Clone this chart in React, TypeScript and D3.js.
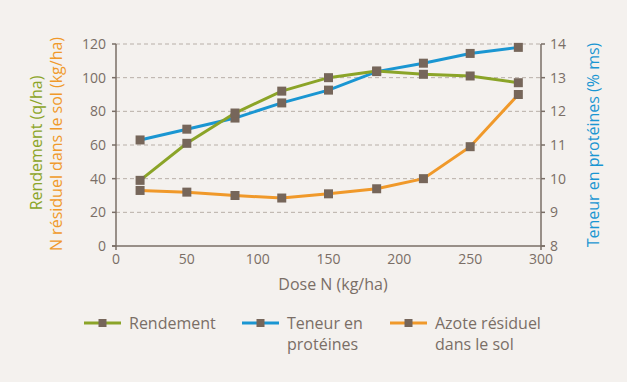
import React from "react";
import * as d3 from "d3";

const doses = [17, 50, 84, 117, 150, 184, 217, 250, 284];
const rendement = [39, 61, 79, 92, 100, 104, 102, 101, 97];
const teneur = [11.15, 11.47, 11.8, 12.25, 12.63, 13.18, 13.43, 13.72, 13.9];
const azote = [33, 32, 30, 28.5, 31, 34, 40, 59, 90];
const xTicks = [0, 50, 100, 150, 200, 250, 300];
const leftTicks = [0, 20, 40, 60, 80, 100, 120];
const rightTicks = [8, 9, 10, 11, 12, 13, 14];

const W = 627, H = 382;
const FONT = "'Open Sans', sans-serif";
const GREEN = "#8ba428", BLUE = "#1a96d2", ORANGE = "#f0992a", MARK = "#76665a", AX = "#7a6e66";

export default function App() {
  const x = d3.scaleLinear().domain([0, 300]).range([116, 541]);
  const yL = d3.scaleLinear().domain([0, 120]).range([246, 44]);
  const yR = d3.scaleLinear().domain([8, 14]).range([246, 44]);
  const line = (ys: number[], sc: d3.ScaleLinear<number, number>) =>
    d3.line<number>().x((_, i) => x(doses[i])).y((v) => sc(v))(ys) || "";
  const series = [
    { vals: azote, sc: yL, color: ORANGE },
    { vals: teneur, sc: yR, color: BLUE },
    { vals: rendement, sc: yL, color: GREEN },
  ];
  const ms = 9;
  const legend = [
    { x0: 84, color: GREEN, lines: ["Rendement"] },
    { x0: 242, color: BLUE, lines: ["Teneur en", "protéines"] },
    { x0: 390, color: ORANGE, lines: ["Azote résiduel", "dans le sol"] },
  ];
  return (
    <svg width={W} height={H} style={{ position: "absolute", left: 0, top: 0, display: "block" }} fontFamily={FONT}>
      <rect width={W} height={H} fill="#f4f1ee" />
      {leftTicks.slice(1).map((t) => (
        <line key={t} x1={116} x2={541} y1={yL(t)} y2={yL(t)} stroke="#b8afa8" strokeWidth={1} strokeDasharray="4 3" />
      ))}
      <line x1={116} x2={116} y1={44} y2={250} stroke={AX} strokeWidth={1.5} />
      <line x1={541} x2={541} y1={44} y2={250} stroke={AX} strokeWidth={1.5} />
      <line x1={112} x2={545} y1={246} y2={246} stroke={AX} strokeWidth={1.5} />
      {leftTicks.map((t) => (
        <g key={"l" + t}>
          <line x1={112} x2={116} y1={yL(t)} y2={yL(t)} stroke={AX} strokeWidth={1.5} />
          <text x={106} y={yL(t)} dy="0.35em" textAnchor="end" fontSize={14} fill={AX}>{t}</text>
        </g>
      ))}
      {rightTicks.map((t) => (
        <g key={"r" + t}>
          <line x1={541} x2={545} y1={yR(t)} y2={yR(t)} stroke={AX} strokeWidth={1.5} />
          <text x={550} y={yR(t)} dy="0.35em" textAnchor="start" fontSize={14} fill={AX}>{t}</text>
        </g>
      ))}
      {xTicks.map((t) => (
        <text key={"x" + t} x={x(t)} y={264} textAnchor="middle" fontSize={14} fill={AX}>{t}</text>
      ))}
      <text x={333} y={290} textAnchor="middle" fontSize={16} fill={AX}>Dose N (kg/ha)</text>
      <text transform="translate(42,143) rotate(-90)" textAnchor="middle" fontSize={16} fill={GREEN}>Rendement (q/ha)</text>
      <text transform="translate(62,144) rotate(-90)" textAnchor="middle" fontSize={16} fill={ORANGE}>N résiduel dans le sol (kg/ha)</text>
      <text transform="translate(599,145) rotate(-90)" textAnchor="middle" fontSize={16} fill={BLUE}>Teneur en protéines (% ms)</text>
      {series.map((s, k) => (
        <path key={"p" + k} d={line(s.vals, s.sc)} fill="none" stroke={s.color} strokeWidth={3} />
      ))}
      {series.map((s, k) =>
        s.vals.map((v, i) => (
          <rect key={"m" + k + "-" + i} x={x(doses[i]) - ms / 2} y={s.sc(v) - ms / 2} width={ms} height={ms} fill={MARK} />
        ))
      )}
      {legend.map((l, k) => (
        <g key={"lg" + k}>
          <line x1={l.x0} x2={l.x0 + 37} y1={323} y2={323} stroke={l.color} strokeWidth={3} />
          <rect x={l.x0 + 18.5 - 4} y={319} width={8} height={8} fill={MARK} />
          {l.lines.map((t, j) => (
            <text key={j} x={l.x0 + 45} y={323 + j * 21} dy="0.35em" fontSize={16} fill={AX}>{t}</text>
          ))}
        </g>
      ))}
    </svg>
  );
}
